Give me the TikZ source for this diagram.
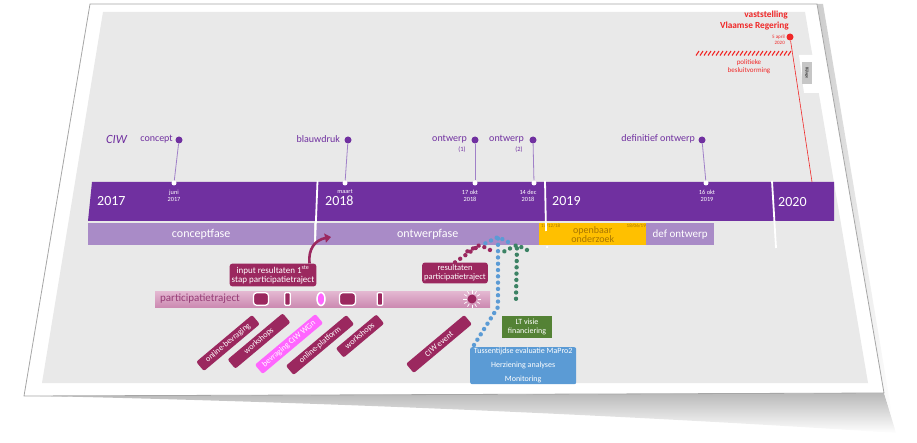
\documentclass[tikz,border=0pt]{standalone}
\usepackage{fontspec}
\setmainfont{Carlito}
\usetikzlibrary{arrows.meta,shapes.geometric,calc,decorations.markings}
\definecolor{purp}{RGB}{112,48,160}
\definecolor{lilac}{RGB}{169,139,199}
\definecolor{msl}{RGB}{160,128,200}
\definecolor{mag}{RGB}{155,40,95}
\definecolor{ptlight}{RGB}{228,184,210}
\definecolor{ptdark}{RGB}{204,138,178}
\definecolor{pttext}{RGB}{150,60,118}
\definecolor{bpink}{RGB}{255,102,255}
\definecolor{yel}{RGB}{255,192,0}
\definecolor{yeltext}{RGB}{168,118,0}
\definecolor{grn}{RGB}{84,130,53}
\definecolor{dgrn}{RGB}{60,130,100}
\definecolor{blu}{RGB}{91,155,213}
\definecolor{bg}{RGB}{233,233,233}
\definecolor{red1}{RGB}{240,40,40}
\begin{document}
\begin{tikzpicture}[x=1pt,y=-1pt,
  ms/.style={circle,fill=purp,inner sep=0pt,minimum size=7pt},
  wd/.style={circle,fill=white,inner sep=0pt,minimum size=5pt},
  msline/.style={draw=msl,line width=0.8pt},
  mslabel/.style={text=purp,font=\fontsize{10}{10}\selectfont,anchor=east,inner sep=0pt},
  sublabel/.style={text=purp,font=\fontsize{6.5}{6.5}\selectfont,inner sep=0pt},
  datelbl/.style={text=white,font=\fontsize{6.3}{7}\selectfont,align=center,inner sep=0pt},
  yearlbl/.style={text=white,font=\fontsize{14}{14}\selectfont,inner sep=0pt,anchor=west},
  phase/.style={fill=lilac,minimum height=22pt,inner sep=0pt,anchor=north west,text=white,font=\fontsize{12}{12}\selectfont},
  mbox/.style={fill=mag,text=white,rounded corners=2.5pt,align=center,inner sep=2pt},
  rb/.style={fill=mag,text=white,rounded corners=2pt,rotate=40,minimum height=12pt,inner sep=1pt,font=\fontsize{8.2}{8.2}\selectfont},
  blk/.style={fill=mag,draw=white,line width=1.3pt,rounded corners=3pt,minimum height=12.5pt,inner sep=0pt},
  dotline/.style={decoration={markings,mark=between positions 0 and 1 step 6.3pt with {\fill[#1] (0,0) circle (2.2pt);}},decorate},
  redtxt/.style={text=red1,inner sep=0pt}]
\useasboundingbox (0,0) rectangle (917,443);
% shadow under sheet
\shade[top color=gray!55,bottom color=white] (40,396) -- (884,393) -- (896,433) .. controls (700,420) and (400,404) .. (40,396) -- cycle;
\shade[left color=gray!40,right color=white] (817,4) -- (823,4) -- (893,420) -- (884,393) -- cycle;
% sheet
\filldraw[fill=white,draw=gray!70,line width=0.8pt] (90,4) -- (817,4) -- (884,393) -- (24,396) -- cycle;
% grey slide area
\fill[bg] (103,12) -- (805,12) -- (868,383) -- (42,383) -- cycle;
% tab
\fill[white] (799,55) -- (815,55) -- (820,93) -- (804,93) -- cycle;
\node[fill=gray!45,minimum width=10pt,minimum height=22pt,inner sep=0pt] (tab) at (807,73) {};
\node[rotate=-90,font=\fontsize{4}{4}\selectfont,inner sep=0pt] (tabtxt) at (tab.center) {Bijlage};

% purple band
\fill[purp] (92,182) -- (834,182) -- (834,221) -- (88,221) -- cycle;
% phases
\node[phase,minimum width=226pt] (pconcept) at (88,223) {conceptfase};
\node[phase,minimum width=223pt] (pontwerp) at (316,223) {ontwerpfase};
\node[phase,minimum width=107pt,fill=yel,text=yeltext,align=center,font=\fontsize{10}{9}\selectfont] (popen) at (539,223) {openbaar\\onderzoek};
\node[phase,minimum width=68pt,font=\fontsize{11}{11}\selectfont] (pdef) at (646,223) {def ontwerp};
\node[text=yeltext,font=\fontsize{5}{5}\selectfont,anchor=north west,inner sep=0pt] (d1) at (541,224) {19/12/18};
\node[text=yeltext,font=\fontsize{5}{5}\selectfont,anchor=north east,inner sep=0pt] (d2) at (646,224) {18/06/19};
% year dividers
\draw[white,line width=1.8pt] (317.5,181) -- (315,245);
\draw[white,line width=1.8pt] (545,181) -- (546,231);
\draw[white,line width=1.8pt] (772,181) -- (776,248);
\node[circle,fill=white,inner sep=0pt,minimum size=2.5pt] (wdot) at (547,247) {};
% year labels
\node[yearlbl] (y2017) at (97,201) {2017};
\node[yearlbl] (y2018) at (325,201) {2018};
\node[yearlbl] (y2019) at (552,201) {2019};
\node[yearlbl] (y2020) at (778,202) {2020};

% milestones
\node[text=purp,font=\fontsize{12.5}{13}\selectfont\itshape,anchor=west,inner sep=0pt] (ciw) at (106,139) {CIW};
\node[ms] (mconcept) at (179,140) {};
\node[wd] (dconcept) at (174,183) {};
\draw[msline] (mconcept) -- (dconcept);
\node[mslabel] (lconcept) at (173,139) {concept};
\node[datelbl] (tconcept) at (174,196) {juni\\2017};

\node[ms] (mblauw) at (348,140) {};
\node[wd] (dblauw) at (345,183) {};
\draw[msline] (mblauw) -- (dblauw);
\node[mslabel] (lblauw) at (340,139) {blauwdruk};
\node[datelbl] (tblauw) at (345,192) {maart};

\node[ms] (mont1) at (475,140) {};
\node[wd] (dont1) at (475,183) {};
\draw[msline] (mont1) -- (dont1);
\node[mslabel] (lont1) at (467,139) {ontwerp};
\node[sublabel] (sont1) at (462,150) {(1)};
\node[datelbl] (tont1) at (470,196) {17 okt\\2018};

\node[ms] (mont2) at (533,140) {};
\node[wd] (dont2) at (534,183) {};
\draw[msline] (mont2) -- (dont2);
\node[mslabel] (lont2) at (524,139) {ontwerp};
\node[sublabel] (sont2) at (519,150) {(2)};
\node[datelbl] (tont2) at (528,196) {14 dec\\2018};

\node[ms] (mdef) at (702,140) {};
\node[wd] (ddef) at (706,183) {};
\draw[msline] (mdef) -- (ddef);
\node[mslabel] (ldef) at (695,139) {definitief ontwerp};
\node[datelbl] (tdef) at (707,196) {16 okt\\2019};

% red political decision
\node[redtxt,font=\bfseries\fontsize{9.3}{9.3}\selectfont,anchor=east] (vast) at (788,15) {vaststelling};
\node[redtxt,font=\bfseries\fontsize{9.3}{9.3}\selectfont,anchor=east] (vlaams) at (789,26) {Vlaamse Regering};
\node[circle,fill=red1,inner sep=0pt,minimum size=7pt] (rdot) at (790,37) {};
\node[redtxt,font=\fontsize{5}{6.5}\selectfont,align=right,anchor=east] (rdate) at (785,40) {5 april\\2020};
\coordinate (rend) at (812,182);
\draw[red1,line width=0.6pt] (rdot) -- (rend);
\foreach \x in {696,700,...,788} \draw[red1,line width=1.1pt] (\x,55.5) -- (\x+3,51);
\node[redtxt,font=\fontsize{7}{8}\selectfont,align=center] (polit) at (749,67) {politieke\\besluitvorming};

% participation trajectory
\node[top color=ptlight,bottom color=ptdark,minimum width=335pt,minimum height=16pt,inner sep=0pt,anchor=north west] (ptbar) at (155,291) {};
\node[text=pttext,font=\fontsize{11}{11}\selectfont,anchor=west,inner sep=0pt] (ptlbl) at (160,299) {participatietraject};
\node[blk,minimum width=15pt] (b1) at (261,299) {};
\node[blk,minimum width=5.5pt,rounded corners=1pt] (b2) at (287.5,299) {};
\node[ellipse,fill=bpink,draw=white,line width=1.5pt,minimum width=8pt,minimum height=13pt,inner sep=0pt] (b3) at (321,299) {};
\node[blk,minimum width=16pt] (b4) at (347.5,299) {};
\node[blk,minimum width=5.5pt,rounded corners=1pt] (b5) at (380,299) {};
\node[circle,fill=mag,inner sep=0pt,minimum size=9pt] (sun) at (472,299) {};
\foreach \a in {0,30,...,330} \draw[white,line width=0.7pt] ($(sun.center)+(\a:5.5)$) -- ($(sun.center)+(\a:9)$);

% boxes
\node[mbox,font=\fontsize{9}{9.5}\selectfont] (inp) at (273,275) {input resultaten 1\textsuperscript{ste}\\stap participatietraject};
\node[mbox,font=\fontsize{8.5}{9.5}\selectfont] (res) at (455,273) {resultaten\\participatietraject};
\coordinate (arrtip) at (331,237);
\draw[mag,line width=2.6pt,-{Triangle[length=6pt,width=9pt]}] ($(inp.north east)+(-7,0)$) .. controls (308,249) and (315,240) .. (arrtip);

% rotated activity boxes
\node[rb,minimum width=73pt] (r1) at (228,343) {online-bevraging};
\node[rb,minimum width=72pt] (r2) at (259,341) {workshops};
\node[rb,minimum width=79pt,fill=bpink] (r3) at (289,344) {bevraging CIW WGn};
\node[rb,minimum width=79pt] (r4) at (320,345) {online-platform};
\node[rb,minimum width=53pt] (r5) at (360,336) {workshops};
\node[rb,minimum width=76pt] (r6) at (439,344) {CIW event};

% green and blue boxes
\node[fill=grn,text=white,minimum width=50pt,minimum height=22pt,inner sep=0pt,align=center,font=\fontsize{8}{9.5}\selectfont] (grnbox) at (527,327) {LT visie\\financiering};
\node[fill=blu,text=white,minimum width=106pt,minimum height=37pt,inner sep=0pt,align=center,rounded corners=2pt,anchor=north west,font=\fontsize{8}{14}\selectfont] (blubox) at (470,347) {Tussentijdse evaluatie MaPro2\\Herziening analyses\\Monitoring};

% dotted arrows
\coordinate (magtip) at (480,245);
\path[dotline=mag] (res.north) -- (magtip);
\path[dotline=mag] ($(magtip)+(-12.6,6.3)$) -- (magtip) -- ($(magtip)+(12.6,6.3)$);
\coordinate (blutip) at (498,237);
\coordinate (blubend) at (498,307);
\path[dotline=blu] ($(blubox.north west)+(4,-2)$) -- (blubend) -- (blutip);
\path[dotline=blu] ($(blutip)+(-12.6,6.3)$) -- (blutip) -- ($(blutip)+(12.6,6.3)$);
\coordinate (grntip) at (517,245);
\path[dotline=dgrn] ($(grnbox.north)+(-11,-17)$) -- (grntip);
\path[dotline=dgrn] ($(grntip)+(-12.6,6.3)$) -- (grntip) -- ($(grntip)+(12.6,6.3)$);
\end{tikzpicture}
\end{document}
